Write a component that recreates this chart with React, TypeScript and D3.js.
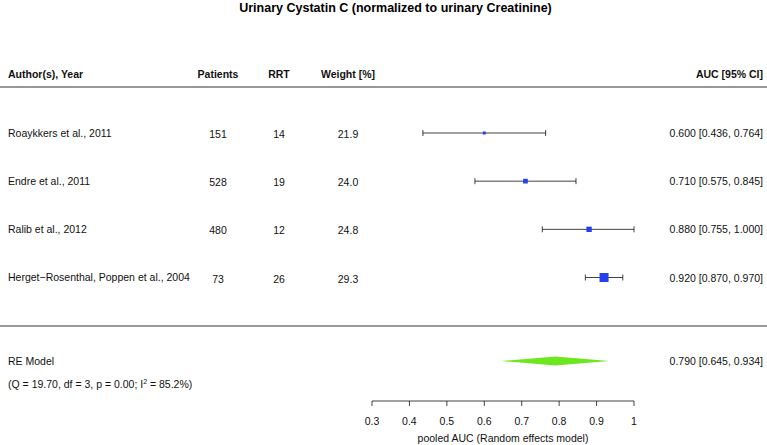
import React from 'react';
import * as d3 from 'd3';

const studies = ['Roaykkers et al., 2011', 'Endre et al., 2011', 'Ralib et al., 2012', 'Herget\u2212Rosenthal, Poppen et al., 2004'];
const patients = [151, 528, 480, 73];
const rrt = [14, 19, 12, 26];
const weights = [21.9, 24.0, 24.8, 29.3];
const auc = [0.6, 0.71, 0.88, 0.92];
const lower = [0.436, 0.575, 0.755, 0.87];
const upper = [0.764, 0.845, 1.0, 0.97];
const pooled = { est: 0.79, lo: 0.645, hi: 0.934 };
const axisTicks = [0.3, 0.4, 0.5, 0.6, 0.7, 0.8, 0.9, 1];

const W = 767;
const H = 445;

export default function App() {
  const font = '"Liberation Sans", Arial, Helvetica, sans-serif';
  const x = d3.scaleLinear().domain([0.3, 1]).range([372, 634]);
  const y = d3.scaleLinear().domain([0, 3]).range([133, 277.5]);
  // square side scales with weight
  const size = d3.scaleLinear().domain([21.9, 29.3]).range([3, 9]);
  const f3 = d3.format('.3f');

  const cell = { fontFamily: font, fontSize: 10.5, fill: '#111' } as const;
  const axisY = 401;
  const reY = 361;
  const dh = 4.5;
  const diamond = `M${x(pooled.lo)},${reY} L${x(pooled.est)},${reY - dh} L${x(pooled.hi)},${reY} L${x(pooled.est)},${reY + dh} Z`;

  return (
    <svg width={W} height={H} style={{ position: 'absolute', left: 0, top: 0, background: '#fff' }}>
      <text x={W / 2 + 12} y={12} textAnchor="middle" fontFamily={font} fontSize={12.5} fontWeight="bold">
        Urinary Cystatin C (normalized to urinary Creatinine)
      </text>

      <g style={cell} fontWeight="bold">
        <text x={8} y={78}>Author(s), Year</text>
        <text x={218} y={78} textAnchor="middle">Patients</text>
        <text x={279} y={78} textAnchor="middle">RRT</text>
        <text x={348} y={78} textAnchor="middle">Weight [%]</text>
        <text x={763} y={78} textAnchor="end">AUC [95% CI]</text>
      </g>
      <line x1={0} x2={W} y1={87} y2={87} stroke="#333" strokeWidth={1} />

      {studies.map((s, i) => {
        const cy = y(i);
        const sz = size(weights[i]);
        return (
          <g key={s} style={cell}>
            <text x={8} y={cy + 3.5}>{s}</text>
            <text x={218} y={cy + 5} textAnchor="middle">{patients[i]}</text>
            <text x={279} y={cy + 5} textAnchor="middle">{rrt[i]}</text>
            <text x={348} y={cy + 5} textAnchor="middle">{weights[i].toFixed(1)}</text>
            <text x={763} y={cy + 4} textAnchor="end">{`${f3(auc[i])} [${f3(lower[i])}, ${f3(upper[i])}]`}</text>
            <line x1={x(lower[i])} x2={x(upper[i])} y1={cy} y2={cy} stroke="#111" strokeWidth={0.8} />
            <line x1={x(lower[i])} x2={x(lower[i])} y1={cy - 3} y2={cy + 3} stroke="#111" strokeWidth={0.8} />
            <line x1={x(upper[i])} x2={x(upper[i])} y1={cy - 3} y2={cy + 3} stroke="#111" strokeWidth={0.8} />
            <rect x={x(auc[i]) - sz / 2} y={cy - sz / 2} width={sz} height={sz} fill="#2440ee" />
          </g>
        );
      })}

      <line x1={0} x2={W} y1={326} y2={326} stroke="#333" strokeWidth={1} />

      <g style={cell}>
        <text x={8} y={reY + 4}>RE Model</text>
        <text x={8} y={388}>
          (Q = 19.70, df = 3, p = 0.00; I
          <tspan fontSize={7} dy={-4}>2</tspan>
          <tspan dy={4}> = 85.2%)</tspan>
        </text>
        <text x={763} y={reY + 4} textAnchor="end">{`${f3(pooled.est)} [${f3(pooled.lo)}, ${f3(pooled.hi)}]`}</text>
      </g>
      <path d={diamond} fill="#6ee81e" />

      <line x1={x(0.3)} x2={x(1)} y1={axisY} y2={axisY} stroke="#111" strokeWidth={0.8} />
      {axisTicks.map((t) => (
        <g key={t}>
          <line x1={x(t)} x2={x(t)} y1={axisY} y2={axisY + 5} stroke="#111" strokeWidth={0.8} />
          <text x={x(t)} y={axisY + 24} textAnchor="middle" style={cell}>{d3.format('~g')(t)}</text>
        </g>
      ))}
      <text x={x(0.65)} y={442} textAnchor="middle" style={cell}>pooled AUC (Random effects model)</text>
    </svg>
  );
}
